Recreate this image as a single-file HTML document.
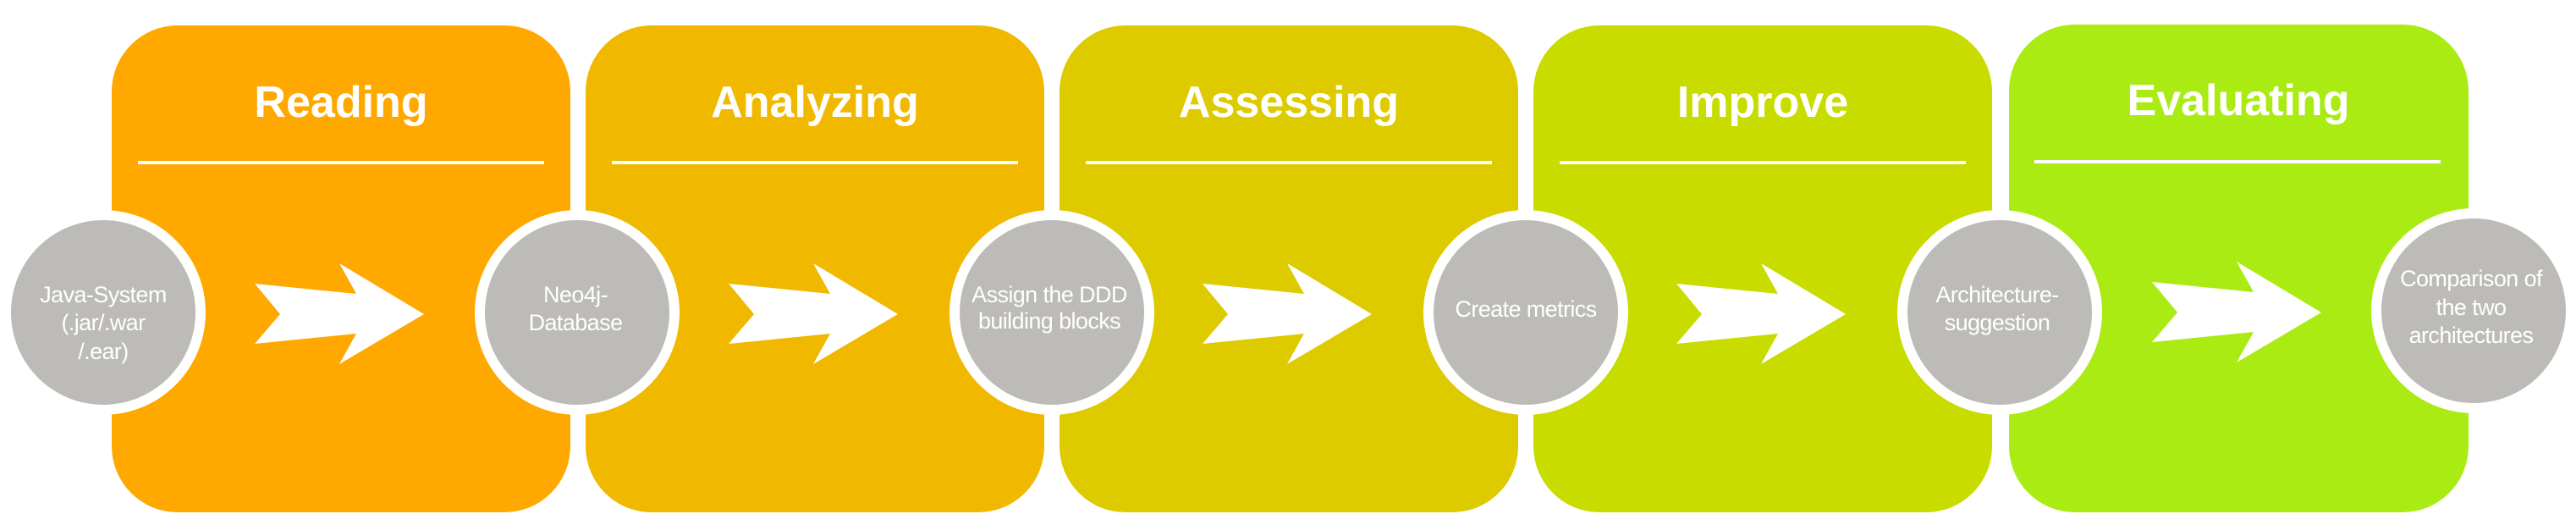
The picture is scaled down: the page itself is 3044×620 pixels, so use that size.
<!DOCTYPE html>
<html><head><meta charset="utf-8"><style>
html,body{margin:0;padding:0;background:#fff;}
svg{display:block;}
.t{font-family:"Liberation Sans",Arial,sans-serif;font-weight:bold;font-size:52px;fill:#fff;text-anchor:middle;}
.c{font-family:"Liberation Sans",Arial,sans-serif;font-size:27px;fill:#fff;text-anchor:middle;letter-spacing:-0.6px;}
</style></head><body>
<svg width="3044" height="620" viewBox="0 0 3044 620" xmlns="http://www.w3.org/2000/svg">
<rect x="0" y="0" width="3044" height="620" fill="#fff"/>
<!-- boxes -->
<rect x="132" y="30" width="542" height="575" rx="78" ry="78" fill="#FFA800"/>
<rect x="692" y="30" width="542" height="575" rx="78" ry="78" fill="#F0B900"/>
<rect x="1252" y="30" width="542" height="575" rx="78" ry="78" fill="#DDCB00"/>
<rect x="1812" y="30" width="542" height="575" rx="78" ry="78" fill="#C8DC00"/>
<rect x="2374" y="29" width="543" height="576" rx="78" ry="78" fill="#AAEB14"/>
<!-- titles -->
<text class="t" x="403" y="138">Reading</text>
<text class="t" x="963" y="138">Analyzing</text>
<text class="t" x="1523" y="138">Assessing</text>
<text class="t" x="2083" y="138">Improve</text>
<text class="t" x="2645" y="136">Evaluating</text>
<!-- lines -->
<rect x="163" y="190" width="480" height="4" fill="#fff"/>
<rect x="723" y="190" width="480" height="4" fill="#fff"/>
<rect x="1283" y="190" width="480" height="4" fill="#fff"/>
<rect x="1843" y="190" width="480" height="4" fill="#fff"/>
<rect x="2404" y="189" width="480" height="4" fill="#fff"/>
<!-- arrows -->
<g fill="#fff">
<polygon points="301,335 421,347 401,311 501,371 401,430 421,394 301,406 331,371"/>
<polygon transform="translate(560,0)" points="301,335 421,347 401,311 501,371 401,430 421,394 301,406 331,371"/>
<polygon transform="translate(1120,0)" points="301,335 421,347 401,311 501,371 401,430 421,394 301,406 331,371"/>
<polygon transform="translate(1680,0)" points="301,335 421,347 401,311 501,371 401,430 421,394 301,406 331,371"/>
<polygon transform="translate(2242,-2)" points="301,335 421,347 401,311 501,371 401,430 421,394 301,406 331,371"/>
</g>
<!-- circles -->
<g>
<circle cx="122" cy="369" r="121" fill="#fff"/><circle cx="122" cy="369" r="109" fill="#BDBBB8"/>
<circle cx="682" cy="369" r="121" fill="#fff"/><circle cx="682" cy="369" r="109" fill="#BDBBB8"/>
<circle cx="1243" cy="369" r="121" fill="#fff"/><circle cx="1243" cy="369" r="109" fill="#BDBBB8"/>
<circle cx="1803" cy="369" r="121" fill="#fff"/><circle cx="1803" cy="369" r="109" fill="#BDBBB8"/>
<circle cx="2363" cy="369" r="121" fill="#fff"/><circle cx="2363" cy="369" r="109" fill="#BDBBB8"/>
<circle cx="2923" cy="367" r="121" fill="#fff"/><circle cx="2923" cy="367" r="109" fill="#BDBBB8"/>
</g>
<!-- circle text -->
<text class="c" x="122" y="357">Java-System</text>
<text class="c" x="122" y="390">(.jar/.war</text>
<text class="c" x="122" y="424">/.ear)</text>
<text class="c" x="680" y="357">Neo4j-</text>
<text class="c" x="680" y="390">Database</text>
<text class="c" x="1240" y="357">Assign the DDD</text>
<text class="c" x="1240" y="388">building blocks</text>
<text class="c" x="1803" y="374">Create metrics</text>
<text class="c" x="2360" y="357">Architecture-</text>
<text class="c" x="2360" y="390">suggestion</text>
<text class="c" x="2920" y="338">Comparison of</text>
<text class="c" x="2920" y="372">the two</text>
<text class="c" x="2920" y="405">architectures</text>
</svg>
</body></html>
